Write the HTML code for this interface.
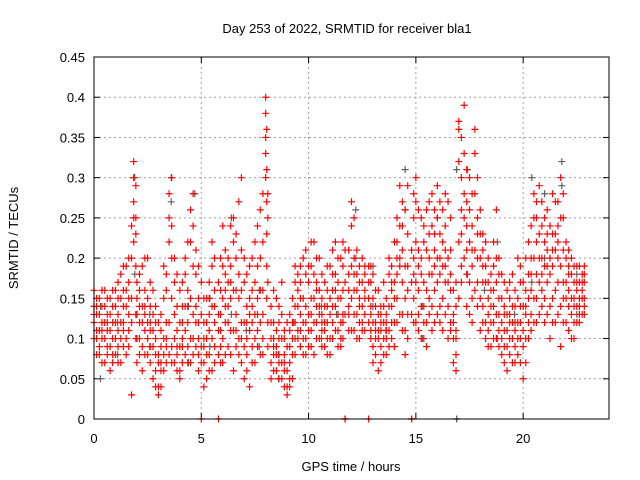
<!DOCTYPE html>
<html><head><meta charset="utf-8">
<style>
html,body{margin:0;padding:0;background:#fff;}
svg{display:block;font-family:"Liberation Sans",sans-serif;}
</style></head>
<body>
<svg id="chart" width="640" height="480" viewBox="0 0 640 480">
<text x="347" y="33" text-anchor="middle" font-size="13">Day 253 of 2022, SRMTID for receiver bla1</text>
<text x="351" y="471" text-anchor="middle" font-size="13">GPS time / hours</text>
<text transform="translate(18,238) rotate(-90)" text-anchor="middle" font-size="13">SRMTID / TECUs</text>
<g id="grid"></g><g id="ticks"></g><g id="grey"></g><g id="red"></g>
<rect x="94" y="57" width="515" height="362" fill="none" stroke="#000" stroke-width="1"/>
</svg>
<script>
const xTicks=[0,5,10,15,20];
const yTicks=[0,0.05,0.1,0.15,0.2,0.25,0.3,0.35,0.4,0.45];
const yTickLabels=["0","0.05","0.1","0.15","0.2","0.25","0.3","0.35","0.4","0.45"];
// red series rows: [time, values...]
const redRows=[
[0.0,0.14,0.12,0.16,0.1,0.13],[0.25,0.08,0.15,0.11,0.13,0.09],[0.5,0.12,0.07,0.14,0.1,0.16],[0.75,0.09,0.13,0.06,0.15,0.11],
[1.0,0.12,0.16,0.08,0.1,0.14],[1.25,0.15,0.07,0.12,0.18,0.1],[1.5,0.1,0.14,0.16,0.08,0.19],[1.75,0.2,0.03,0.12,0.24,0.15],
[1.85,0.3,0.32,0.27,0.25,0.22],[2.0,0.13,0.07,0.1,0.17,0.15],[2.25,0.12,0.09,0.14,0.06,0.19],[2.5,0.15,0.1,0.2,0.08,0.12],
[2.75,0.05,0.09,0.13,0.16,0.11],[3.0,0.04,0.03,0.08,0.12,0.07],[3.25,0.06,0.1,0.15,0.08,0.19],[3.5,0.22,0.25,0.08,0.12,0.28],
[3.75,0.07,0.17,0.1,0.13,0.2],[4.0,0.06,0.09,0.12,0.16,0.05],[4.25,0.08,0.14,0.2,0.11,0.18],[4.5,0.22,0.26,0.1,0.15,0.07],
[4.75,0.12,0.18,0.09,0.21,0.14],[5.0,0.0,0.09,0.07,0.13,0.17],[5.25,0.05,0.1,0.15,0.08,0.12],[5.5,0.19,0.14,0.06,0.1,0.22],
[5.8,0.0,0.11,0.17,0.08,0.13],[6.0,0.1,0.15,0.19,0.07,0.24],[6.25,0.14,0.17,0.12,0.09,0.2],[6.5,0.22,0.06,0.11,0.16,0.25],
[6.75,0.18,0.27,0.1,0.15,0.08],[7.0,0.05,0.12,0.2,0.17,0.09],[7.25,0.11,0.04,0.15,0.19,0.13],[7.5,0.07,0.13,0.22,0.17,0.1],
[7.75,0.26,0.2,0.08,0.12,0.16],[8.0,0.4,0.35,0.3,0.38,0.33],[8.1,0.25,0.17,0.12,0.09,0.28],[8.25,0.07,0.1,0.14,0.05,0.12],
[8.5,0.08,0.06,0.11,0.15,0.09],[8.75,0.05,0.1,0.07,0.13,0.17],[9.0,0.04,0.06,0.09,0.03,0.12],[9.25,0.08,0.12,0.05,0.15,0.1],
[9.5,0.14,0.18,0.11,0.1,0.16],[9.75,0.12,0.08,0.2,0.15,0.1],[10.0,0.17,0.13,0.09,0.19,0.11],[10.25,0.22,0.15,0.12,0.08,0.18],
[10.5,0.13,0.1,0.16,0.14,0.2],[10.75,0.12,0.09,0.17,0.14,0.11],[11.0,0.1,0.15,0.13,0.08,0.19],[11.25,0.14,0.18,0.22,0.11,0.16],
[11.5,0.12,0.09,0.2,0.15,0.1],[11.7,0.0,0.0,0.17,0.13,0.21],[12.0,0.15,0.11,0.19,0.24,0.27],[12.25,0.13,0.18,0.21,0.1,0.16],
[12.5,0.2,0.14,0.17,0.11,0.12],[12.8,0.0,0.15,0.19,0.12,0.17],[13.0,0.09,0.12,0.15,0.18,0.07],[13.25,0.1,0.13,0.06,0.16,0.11],
[13.5,0.08,0.12,0.14,0.1,0.17],[13.75,0.18,0.11,0.09,0.14,0.2],[14.0,0.12,0.17,0.22,0.09,0.15],[14.25,0.29,0.24,0.19,0.13,0.2],
[14.5,0.15,0.11,0.19,0.26,0.08],[14.8,0.0,0.0,0.13,0.17,0.21],[15.0,0.22,0.27,0.3,0.17,0.12],[15.25,0.2,0.14,0.25,0.1,0.18],
[15.5,0.16,0.21,0.12,0.26,0.09],[15.75,0.24,0.18,0.14,0.28,0.11],[16.0,0.2,0.25,0.13,0.17,0.29],[16.25,0.22,0.15,0.11,0.19,0.26],
[16.5,0.14,0.2,0.27,0.1,0.17],[16.75,0.1,0.07,0.13,0.16,0.12],[17.0,0.36,0.37,0.32,0.22,0.15],[17.25,0.39,0.33,0.28,0.2,0.25],
[17.5,0.26,0.3,0.22,0.17,0.13],[17.75,0.36,0.33,0.28,0.21,0.16],[18.0,0.26,0.2,0.15,0.23,0.11],[18.25,0.17,0.12,0.22,0.1,0.19],
[18.5,0.14,0.18,0.09,0.12,0.16],[18.75,0.2,0.13,0.17,0.1,0.26],[19.0,0.12,0.15,0.08,0.18,0.1],[19.25,0.09,0.13,0.06,0.11,0.16],
[19.5,0.1,0.14,0.07,0.18,0.12],[19.75,0.08,0.12,0.15,0.2,0.1],[20.0,0.05,0.11,0.14,0.17,0.09],[20.25,0.12,0.18,0.22,0.15,0.1],
[20.5,0.2,0.25,0.15,0.12,0.28],[20.75,0.17,0.23,0.29,0.13,0.2],[21.0,0.15,0.19,0.25,0.12,0.22],[21.25,0.18,0.24,0.14,0.2,0.1],
[21.5,0.21,0.27,0.16,0.12,0.23],[21.75,0.19,0.25,0.3,0.14,0.09],[22.0,0.15,0.2,0.12,0.17,0.22],[22.25,0.13,0.18,0.15,0.1,0.2],
[22.5,0.16,0.12,0.19,0.14,0.17],[22.75,0.15,0.18,0.13,0.17,0.16]
];
// additional red rows (between the above times)
const redRows2=[
[0.12,0.11,0.15,0.08,0.13,0.1,0.14],[0.37,0.1,0.12,0.14,0.07,0.16,0.11],[0.62,0.13,0.09,0.11,0.15,0.08,0.12],[0.87,0.1,0.14,0.12,0.08,0.16,0.07],
[1.12,0.13,0.09,0.15,0.11,0.07,0.17],[1.37,0.12,0.16,0.09,0.14,0.19,0.11],[1.62,0.13,0.11,0.17,0.09,0.15,0.2],[1.95,0.29,0.23,0.19,0.13,0.1,0.25],
[2.12,0.1,0.14,0.12,0.08,0.16,0.18],[2.37,0.13,0.08,0.16,0.11,0.14,0.2],[2.62,0.11,0.14,0.07,0.17,0.09,0.12],[2.87,0.08,0.1,0.06,0.14,0.04,0.12],
[3.12,0.06,0.09,0.04,0.11,0.07,0.13],[3.37,0.09,0.07,0.12,0.16,0.1,0.18],[3.62,0.3,0.24,0.2,0.15,0.09,0.07],[3.87,0.08,0.11,0.14,0.18,0.09,0.06],
[4.12,0.1,0.07,0.14,0.09,0.17,0.12],[4.37,0.12,0.16,0.09,0.22,0.07,0.14],[4.62,0.28,0.19,0.13,0.1,0.24,0.08],[4.87,0.1,0.15,0.08,0.19,0.12,0.06],
[5.12,0.07,0.12,0.1,0.15,0.04,0.09],[5.37,0.08,0.13,0.17,0.06,0.11,0.15],[5.62,0.12,0.09,0.16,0.2,0.07,0.14],[5.9,0.09,0.13,0.07,0.16,0.11,0.2],
[6.12,0.12,0.16,0.21,0.08,0.18,0.14],[6.37,0.15,0.19,0.11,0.24,0.08,0.17],[6.62,0.13,0.2,0.09,0.16,0.23,0.11],[6.87,0.3,0.16,0.12,0.21,0.07,0.1],
[7.12,0.08,0.14,0.1,0.18,0.06,0.12],[7.37,0.09,0.12,0.16,0.07,0.2,0.14],[7.62,0.11,0.15,0.09,0.19,0.24,0.13],[7.87,0.22,0.16,0.1,0.28,0.13,0.08],
[8.05,0.36,0.31,0.27,0.23,0.19,0.15],[8.37,0.09,0.06,0.12,0.08,0.16,0.1],[8.62,0.07,0.1,0.05,0.12,0.08,0.14],[8.87,0.06,0.08,0.04,0.1,0.07,0.11],
[9.12,0.05,0.09,0.07,0.11,0.04,0.13],[9.37,0.1,0.14,0.08,0.17,0.12,0.19],[9.62,0.15,0.11,0.19,0.13,0.09,0.17],[9.87,0.14,0.1,0.18,0.12,0.21,0.08],
[10.12,0.15,0.11,0.19,0.13,0.22,0.09],[10.37,0.12,0.17,0.1,0.14,0.2,0.16],[10.62,0.11,0.15,0.13,0.18,0.09,0.12],[10.87,0.14,0.1,0.16,0.12,0.19,0.08],
[11.12,0.12,0.16,0.1,0.14,0.18,0.21],[11.37,0.11,0.15,0.13,0.09,0.17,0.2],[11.6,0.13,0.1,0.16,0.19,0.12,0.22],[11.87,0.14,0.18,0.11,0.16,0.21,0.13],
[12.12,0.16,0.2,0.13,0.25,0.11,0.18],[12.37,0.15,0.12,0.19,0.17,0.1,0.14],[12.62,0.13,0.16,0.19,0.11,0.15,0.18],[12.9,0.11,0.14,0.17,0.1,0.19,0.13],
[13.12,0.08,0.11,0.14,0.12,0.16,0.1],[13.37,0.12,0.09,0.14,0.07,0.11,0.13],[13.62,0.1,0.13,0.08,0.15,0.11,0.12],[13.87,0.14,0.17,0.1,0.12,0.19,0.16],
[14.12,0.2,0.15,0.25,0.12,0.18,0.22],[14.37,0.17,0.21,0.13,0.27,0.11,0.24],[14.62,0.19,0.23,0.13,0.16,0.29,0.1],[14.9,0.2,0.25,0.15,0.12,0.28,0.18],
[15.12,0.16,0.21,0.11,0.26,0.19,0.13],[15.37,0.22,0.17,0.12,0.24,0.14,0.1],[15.62,0.18,0.23,0.13,0.2,0.27,0.15],[15.87,0.21,0.16,0.26,0.12,0.19,0.23],
[16.12,0.18,0.23,0.14,0.27,0.2,0.12],[16.37,0.17,0.21,0.24,0.13,0.19,0.28],[16.62,0.16,0.12,0.21,0.18,0.25,0.11],[16.87,0.08,0.11,0.14,0.06,0.17,0.1],
[17.12,0.35,0.3,0.26,0.19,0.23,0.17],[17.37,0.31,0.27,0.24,0.18,0.21,0.14],[17.62,0.28,0.24,0.19,0.15,0.21,0.12],[17.87,0.3,0.25,0.2,0.17,0.23,0.14],
[18.12,0.19,0.23,0.14,0.17,0.12,0.21],[18.37,0.15,0.11,0.2,0.13,0.17,0.09],[18.62,0.12,0.16,0.1,0.19,0.14,0.22],[18.87,0.15,0.11,0.18,0.13,0.09,0.2],
[19.12,0.11,0.14,0.09,0.17,0.13,0.07],[19.37,0.1,0.13,0.08,0.15,0.12,0.17],[19.62,0.09,0.12,0.16,0.07,0.14,0.11],[19.87,0.1,0.14,0.07,0.17,0.12,0.19],
[20.12,0.13,0.16,0.1,0.2,0.14,0.07],[20.37,0.16,0.2,0.13,0.24,0.11,0.18],[20.62,0.18,0.22,0.27,0.15,0.12,0.25],[20.87,0.2,0.16,0.24,0.14,0.27,0.18],
[21.12,0.17,0.21,0.13,0.26,0.19,0.23],[21.37,0.19,0.15,0.23,0.12,0.28,0.21],[21.62,0.2,0.24,0.17,0.13,0.27,0.22],[21.87,0.17,0.21,0.25,0.12,0.28,0.15],
[22.12,0.14,0.18,0.21,0.11,0.16,0.19],[22.37,0.15,0.12,0.19,0.17,0.14,0.1],[22.62,0.14,0.17,0.13,0.19,0.15,0.12],[22.85,0.14,0.17,0.19,0.15,0.13,0.18]
];
// grey series rows
const greyRows=[
[0.3,0.05,0.14],[1.1,0.12,0.08],[1.9,0.3,0.18],[2.6,0.13,0.09],[3.6,0.3,0.27],[4.4,0.14,0.07],[4.7,0.28],[5.4,0.09,0.15],
[6.4,0.25,0.13],[7.1,0.11],[7.7,0.16,0.09],[8.6,0.08,0.05],[9.3,0.12],[10.6,0.14,0.1],[11.3,0.13],[12.2,0.2,0.26],
[13.0,0.19,0.14],[13.6,0.11],[14.5,0.26,0.31],[15.3,0.14,0.1],[16.0,0.25],[16.9,0.0,0.0,0.31],[17.4,0.31,0.18],[18.2,0.16],
[18.8,0.1,0.22],[19.6,0.13],[20.4,0.3,0.17],[21.0,0.28,0.2],[21.8,0.32,0.29],[22.5,0.18,0.13]
];
const NS="http://www.w3.org/2000/svg";
const L=94,R=609,T=57,B=419,XMAX=24,YMAX=0.45;
function xs(t){return L+t/XMAX*(R-L);}
function ys(v){return B-v/YMAX*(B-T);}
const grid=document.getElementById('grid'),ticks=document.getElementById('ticks');
function line(g,x1,y1,x2,y2,st,da){const l=document.createElementNS(NS,'line');l.setAttribute('x1',x1);l.setAttribute('y1',y1);l.setAttribute('x2',x2);l.setAttribute('y2',y2);l.setAttribute('stroke',st);if(da)l.setAttribute('stroke-dasharray',da);g.appendChild(l);return l;}
yTicks.forEach((v,i)=>{const y=ys(v);
 if(i>0&&i<yTicks.length-1){const gl=line(grid,L,y,R,y,'#a0a0a0','2,3');
 
 }
 line(ticks,L,y,L+6,y,'#000');line(ticks,R,y,R-6,y,'#000');
 const t=document.createElementNS(NS,'text');t.setAttribute('x',L-9);t.setAttribute('y',y+5);t.setAttribute('text-anchor','end');t.setAttribute('font-size','13');t.textContent=yTickLabels[i];
 
 
 ticks.appendChild(t);});
xTicks.forEach(v=>{const x=xs(v);
 if(v>0){const gl=line(grid,x,T,x,B,'#a0a0a0','2,3');
 
 }
 line(ticks,x,B,x,B-6,'#000');line(ticks,x,T,x,T+6,'#000');
 const t=document.createElementNS(NS,'text');t.setAttribute('x',x);t.setAttribute('y',B+24);t.setAttribute('text-anchor','middle');t.setAttribute('font-size','13');t.textContent=String(v);
 
 
 ticks.appendChild(t);});
function drawSeries(rows,gid,color,name){const g=document.getElementById(gid);
 rows.forEach(r=>{const x=xs(r[0]);for(let k=1;k<r.length;k++){
  const y=ys(r[k]);const p=document.createElementNS(NS,'path');
  p.setAttribute('d','M'+(x-3.5)+' '+y+'h7M'+x+' '+(y-3.5)+'v7');
  p.setAttribute('stroke',color);p.setAttribute('stroke-width','1.2');p.setAttribute('fill','none');
  
  
  g.appendChild(p);}});}
drawSeries(greyRows,'grey','#606060','grey-point');
drawSeries(redRows,'red','#ff0000','red-point');
drawSeries(redRows2,'red','#ff0000','red-point');
</script>
</body></html>
